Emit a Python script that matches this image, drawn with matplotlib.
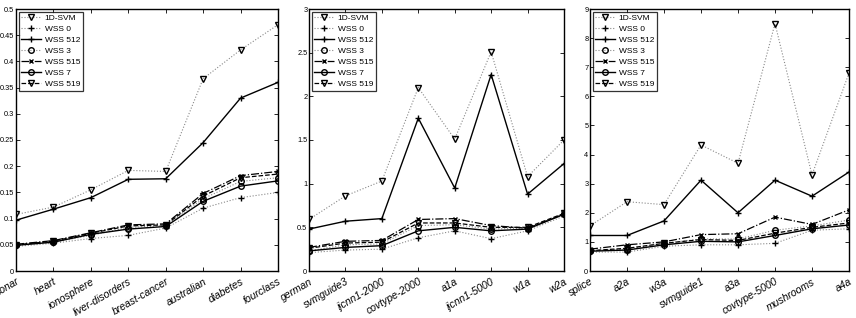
import matplotlib
matplotlib.use("Agg")
import matplotlib.pyplot as plt
from matplotlib import font_manager

names = {f.name for f in font_manager.fontManager.ttflist}
if 'Liberation Sans Narrow' in names:
    fam = ['Liberation Sans Narrow']
    ysize = 6.0
elif 'DejaVu Sans Condensed' in names:
    fam = ['DejaVu Sans Condensed']
    ysize = 5.5
else:
    fam = ['Liberation Sans']
    ysize = 5.3
plt.rcParams['font.family'] = fam + ['DejaVu Sans']

series_names = ['1D-SVM', 'WSS 0', 'WSS 512', 'WSS 3', 'WSS 515', 'WSS 7', 'WSS 519']

cats1 = ['sonar', 'heart', 'ionosphere', 'liver-disorders', 'breast-cancer', 'australian', 'diabetes', 'fourclass']
vals1 = {
    '1D-SVM':  [0.108, 0.122, 0.155, 0.192, 0.190, 0.367, 0.422, 0.470],
    'WSS 0':   [0.047, 0.053, 0.062, 0.068, 0.082, 0.120, 0.140, 0.150],
    'WSS 512': [0.097, 0.118, 0.140, 0.175, 0.176, 0.245, 0.330, 0.360],
    'WSS 3':   [0.050, 0.055, 0.068, 0.083, 0.087, 0.138, 0.171, 0.178],
    'WSS 515': [0.051, 0.058, 0.073, 0.088, 0.090, 0.148, 0.182, 0.190],
    'WSS 7':   [0.049, 0.055, 0.070, 0.080, 0.085, 0.133, 0.162, 0.172],
    'WSS 519': [0.050, 0.057, 0.072, 0.086, 0.088, 0.143, 0.178, 0.185],
}
yticks1 = [0, 0.05, 0.1, 0.15, 0.2, 0.25, 0.3, 0.35, 0.4, 0.45, 0.5]
ylabels1 = ['0', '0.05', '0.1', '0.15', '0.2', '0.25', '0.3', '0.35', '0.4', '0.45', '0.5']

cats2 = ['german', 'svmguide3', 'ijcnn1-2000', 'covtype-2000', 'a1a', 'ijcnn1-5000', 'w1a', 'w2a']
vals2 = {
    '1D-SVM':  [0.59, 0.86, 1.03, 2.10, 1.51, 2.51, 1.08, 1.50],
    'WSS 0':   [0.21, 0.24, 0.25, 0.38, 0.46, 0.37, 0.46, 0.63],
    'WSS 512': [0.48, 0.57, 0.60, 1.75, 0.95, 2.25, 0.88, 1.23],
    'WSS 3':   [0.23, 0.30, 0.31, 0.52, 0.53, 0.48, 0.49, 0.65],
    'WSS 515': [0.27, 0.34, 0.35, 0.59, 0.60, 0.52, 0.49, 0.65],
    'WSS 7':   [0.23, 0.27, 0.29, 0.46, 0.50, 0.46, 0.48, 0.65],
    'WSS 519': [0.26, 0.32, 0.33, 0.55, 0.55, 0.50, 0.50, 0.66],
}
yticks2 = [0, 0.5, 1, 1.5, 2, 2.5, 3]
ylabels2 = ['0', '0.5', '1', '1.5', '2', '2.5', '3']

cats3 = ['splice', 'a2a', 'w3a', 'svmguide1', 'a3a', 'covtype-5000', 'mushrooms', 'a4a']
vals3 = {
    '1D-SVM':  [1.55, 2.38, 2.28, 4.33, 3.70, 8.50, 3.30, 6.80],
    'WSS 0':   [0.65, 0.65, 0.85, 0.90, 0.90, 0.95, 1.40, 1.45],
    'WSS 512': [1.22, 1.22, 1.72, 3.12, 2.00, 3.12, 2.57, 3.40],
    'WSS 3':   [0.70, 0.75, 0.95, 1.10, 1.10, 1.40, 1.55, 1.75],
    'WSS 515': [0.75, 0.90, 1.00, 1.25, 1.28, 1.85, 1.60, 2.10],
    'WSS 7':   [0.68, 0.72, 0.90, 1.02, 1.00, 1.22, 1.45, 1.58],
    'WSS 519': [0.70, 0.78, 0.95, 1.08, 1.05, 1.30, 1.50, 1.65],
}
yticks3 = list(range(0, 10))
ylabels3 = [str(v) for v in yticks3]

styles = {
    '1D-SVM':  dict(ls=':', marker='v', color='#888888', mfc='none', mec='black', ms=4.5, lw=0.8),
    'WSS 0':   dict(ls=':', marker='+', color='#888888', mfc='none', mec='black', ms=4.5, lw=0.8),
    'WSS 512': dict(ls='-', marker='+', color='black', mfc='none', mec='black', ms=4.5, lw=1.0),
    'WSS 3':   dict(ls=':', marker='o', color='#888888', mfc='none', mec='black', ms=4.0, lw=0.8),
    'WSS 515': dict(ls='-.', marker='x', color='black', mfc='none', mec='black', ms=3.5, lw=0.9),
    'WSS 7':   dict(ls='-', marker='o', color='black', mfc='none', mec='black', ms=4.0, lw=1.0),
    'WSS 519': dict(ls='--', marker='v', color='black', mfc='none', mec='black', ms=4.5, lw=0.9),
}

fig = plt.figure(figsize=(8.56, 3.18), dpi=100)
positions = [
    [16/856, 47/318, 262/856, 262/318],
    [309/856, 47/318, 255/856, 262/318],
    [590/856, 47/318, 259/856, 262/318],
]
panels = [(cats1, vals1, yticks1, ylabels1, 0.5),
          (cats2, vals2, yticks2, ylabels2, 3),
          (cats3, vals3, yticks3, ylabels3, 9)]

for pos, (cats, vals, yt, yl, ymax) in zip(positions, panels):
    ax = fig.add_axes(pos)
    x = list(range(1, len(cats) + 1))
    for name in series_names:
        ax.plot(x, vals[name], label=name, **styles[name])
    ax.set_xlim(1, len(cats))
    ax.set_ylim(0, ymax)
    ax.set_xticks(x)
    ax.set_xticklabels(cats, rotation=30, ha='right', va='top', fontsize=7.5,
                       style='italic', rotation_mode='anchor')
    ax.set_yticks(yt)
    ax.set_yticklabels(yl, fontsize=ysize)
    ax.tick_params(direction='in', top=True, right=True, length=3, width=0.6)
    ax.tick_params(axis='y', pad=1.2)
    ax.tick_params(axis='x', pad=4)
    for s in ax.spines.values():
        s.set_linewidth(1.0)
    leg = ax.legend(loc='upper left', fontsize=6, frameon=True, fancybox=False,
                    edgecolor='black', borderaxespad=0.3, handlelength=2.4,
                    labelspacing=0.38, borderpad=0.35, handletextpad=0.4)
    leg.get_frame().set_linewidth(0.9)

fig.savefig('out.png', dpi=100)
